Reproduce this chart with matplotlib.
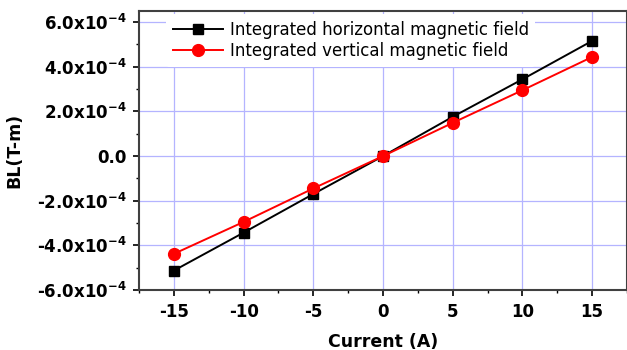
import numpy as np
import matplotlib.pyplot as plt
from matplotlib.ticker import FuncFormatter, MultipleLocator

plt.rcParams['font.family'] = ['DejaVu Sans']
plt.rcParams['mathtext.fontset'] = 'dejavusans'
plt.rcParams['axes.unicode_minus'] = False

# data
current = [-15, -10, -5, 0, 5, 10, 15]
bl_horizontal = [-5.13e-4, -3.43e-4, -1.70e-4, 0.0, 1.76e-4, 3.44e-4, 5.16e-4]
bl_vertical = [-4.38e-4, -2.95e-4, -1.45e-4, 0.0, 1.49e-4, 2.95e-4, 4.44e-4]
x_ticks = [-15, -10, -5, 0, 5, 10, 15]
y_ticks = [-6e-4, -4e-4, -2e-4, 0.0, 2e-4, 4e-4, 6e-4]


def sci_fmt(v, pos):
    if abs(v) < 1e-12:
        return '0.0'
    return r'%.1fx10$^{\mathbf{-4}}$' % (v / 1e-4)


fig = plt.figure(figsize=(6.27, 3.5), dpi=100)
ax = fig.add_axes([0.2217, 0.1714, 0.7783, 0.7972])

ax.grid(True, color='#b4b4ff', linewidth=0.9, zorder=0)
ax.set_axisbelow(True)

ax.plot(current, bl_horizontal, '-s', color='black', markersize=7.5, linewidth=1.4,
        label='Integrated horizontal magnetic field', zorder=3)
ax.plot(current, bl_vertical, '-o', color='red', markersize=8.5, linewidth=1.4,
        label='Integrated vertical magnetic field', zorder=3)

ax.set_xlim(-17.5, 17.5)
ax.set_ylim(-6e-4, 6.5e-4)
ax.set_xticks(x_ticks)
ax.set_yticks(y_ticks)
ax.xaxis.set_minor_locator(MultipleLocator(2.5))
ax.yaxis.set_minor_locator(MultipleLocator(1e-4))
ax.yaxis.set_major_formatter(FuncFormatter(sci_fmt))
ax.tick_params(which='major', direction='out', length=4, width=1.2, labelsize=12, pad=5)
ax.tick_params(which='minor', direction='out', length=2.5, width=1.0)
for lab in ax.get_xticklabels() + ax.get_yticklabels():
    lab.set_fontweight('bold')

for sp in ax.spines.values():
    sp.set_color('#404040')
    sp.set_linewidth(1.5)

ax.set_xlabel('Current (A)', fontsize=12.5, fontweight='bold', labelpad=9)
ax.set_ylabel('BL(T-m)', fontsize=12.5, fontweight='bold', labelpad=10)

leg = ax.legend(loc='upper left', bbox_to_anchor=(0.049, 1.0), fontsize=12,
                frameon=True, handlelength=3, borderaxespad=0.2,
                labelspacing=0.2, handletextpad=0.4)
leg.get_frame().set_edgecolor('none')
leg.get_frame().set_facecolor('white')
leg.get_frame().set_alpha(1.0)

fig.savefig('out.png', dpi=100)
